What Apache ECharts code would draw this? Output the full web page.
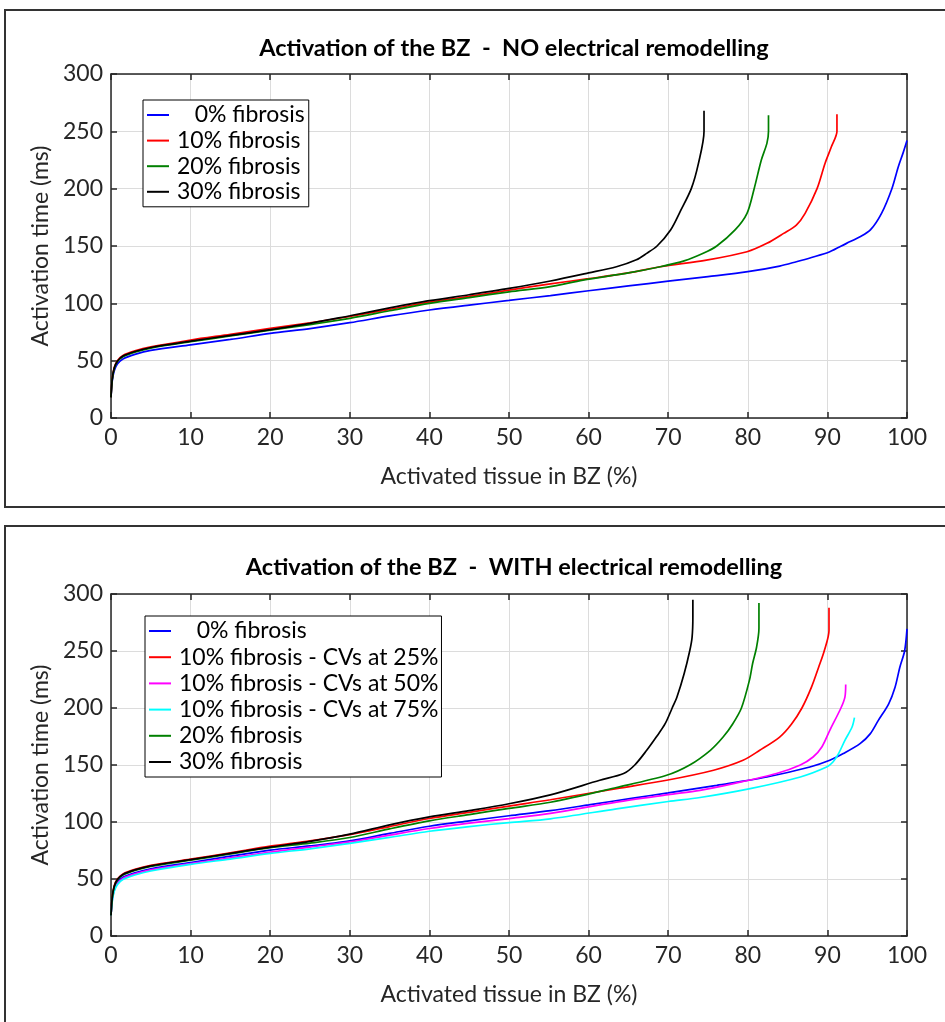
<!DOCTYPE html>
<html>
<head>
<meta charset="utf-8">
<script src="https://cdn.jsdelivr.net/npm/echarts@6/dist/echarts.min.js"></script>
<style>html,body{margin:0;padding:0;background:#fff}#c{width:945px;height:1022px}</style>
</head>
<body>
<div id="c"></div>
<script>
// ---------- Data ----------
const xTicks = [0,10,20,30,40,50,60,70,80,90,100];
const yTicks = [0,50,100,150,200,250,300];

const topTitle = "Activation of the BZ  -  NO electrical remodelling";
const botTitle = "Activation of the BZ  -  WITH electrical remodelling";
const xName = "Activated tissue in BZ (%)";
const yName = "Activation time (ms)";

const topNames = ["   0% fibrosis","10% fibrosis","20% fibrosis","30% fibrosis"];
const botNames = ["   0% fibrosis","10% fibrosis - CVs at 25%","10% fibrosis - CVs at 50%","10% fibrosis - CVs at 75%","20% fibrosis","30% fibrosis"];

// Top panel (NO electrical remodelling): [activated %, activation time ms]
const topBlue = [[0,18],[0.15,32],[0.4,41],[0.8,47],[1.5,51.5],[3,55.5],[5,59],[10,63.8],[15,68.5],[20,73.8],[25,78],[30,83.1],[35,89],[40,94.2],[45,98.5],[50,102.5],[55.2,106.8],[60,111],[65,115.2],[70,119.3],[75,123.3],[80,127.6],[84,132.5],[86.1,136.3],[88,140],[90.3,145],[92.4,152.3],[94.1,158],[95.4,164],[96.8,178.5],[98.1,200],[98.9,219],[99.5,231],[100,242]];
const topRed = [[0,18],[0.15,34],[0.4,44],[0.8,50],[1.5,54.5],[3,58.5],[5,62],[10,68],[15,73],[20,78.2],[25,83],[30,88.5],[35,94.8],[40,101],[45,106],[50,111.5],[55.2,117],[60,121.5],[65,126.5],[69,131.9],[74.8,137.7],[79.9,145],[82.4,152.3],[84.5,161],[86.1,168.3],[87.2,178.5],[88.7,200],[89.7,222],[90.5,236.5],[91.2,250],[91.2,265]];
const topGreen = [[0,18],[0.15,33],[0.4,43],[0.8,49],[1.5,53.5],[3,57.5],[5,61],[10,66.5],[15,71.5],[20,76.5],[25,81.5],[30,86.9],[35,93.5],[40,100],[45,105],[50,110],[55.2,114.5],[59.3,120.3],[65,126.5],[69,131.9],[72,137],[74.4,143.6],[76.1,150],[78.4,164],[79.9,178.5],[80.8,200],[81.7,225],[82.4,239.5],[82.6,250],[82.6,264]];
const topBlack = [[0,18],[0.15,33.5],[0.4,43.5],[0.8,49.5],[1.5,54],[3,58],[5,61.5],[10,67],[15,72],[20,77],[25,82.5],[30,89.2],[35,96],[40,102.3],[45,107.5],[50,113],[55.2,119.5],[60,126.5],[63.5,131.9],[66,138],[67.3,143.6],[68.6,150],[70.3,164],[71.5,180],[72.9,200],[73.8,222],[74.5,250],[74.5,268]];

// Bottom panel (WITH electrical remodelling)
const botBlue = [[0,18],[0.15,32],[0.4,41],[0.8,47],[1.5,51.5],[3,55.5],[5,59],[10,64.5],[15,70],[20,75.3],[25,79],[30,83.5],[35,90],[40,96.3],[45,101],[50,105.5],[55.2,110],[60,115],[65.6,121],[70,125.5],[76.1,132.2],[82.4,139.5],[87.8,148.2],[90.3,154.1],[92,160],[94.1,168.7],[95.4,177.5],[96.4,189.1],[97.7,203.7],[98.5,218.3],[99.1,235.8],[99.7,250],[100,269.4]];
const botRed = [[0,18],[0.15,34],[0.4,44],[0.8,50],[1.5,54.5],[3,58.5],[5,62],[10,67.4],[15,73],[20,78.8],[25,83.5],[30,89],[35,96],[40,103.1],[45,108.5],[50,114],[55.2,119.5],[63.5,129.3],[69.8,136.6],[75.7,145.4],[79.4,154.1],[81.5,162.9],[84,174.5],[85.5,186],[86.8,200],[88,218.3],[88.9,235.8],[89.6,250],[90.2,268],[90.2,288]];
const botMagenta = [[0,18],[0.15,31],[0.4,40],[0.8,46],[1.5,50.5],[3,54.5],[5,58],[10,63.5],[15,68.5],[20,73.5],[25,78],[30,82.5],[35,88.5],[40,94.3],[45,99],[50,103],[55.2,107.5],[63.5,117.5],[70,124],[74,127.8],[78.2,133.7],[83.6,142.5],[86.6,150],[88.2,157],[89.3,165.8],[90.3,180.4],[91.7,200],[92.2,209.6],[92.3,220.7]];
const botCyan = [[0,18],[0.15,30],[0.4,39],[0.8,45],[1.5,49.5],[3,53.5],[5,57],[10,62.8],[15,67.5],[20,72.4],[25,76.5],[30,81.2],[35,86.5],[40,91.9],[45,96],[50,99.5],[55.2,102.8],[63.5,111.5],[70,118],[74,121.5],[80.3,129.3],[86.6,139.5],[89.9,148.2],[90.7,152.6],[91.4,160],[92.2,171.6],[93.1,183.3],[93.4,191.5]];
const botGreen = [[0,18],[0.15,33],[0.4,43],[0.8,49],[1.5,53.5],[3,57.5],[5,61],[10,66.5],[15,72],[20,77.5],[25,81.5],[30,86.4],[35,94],[40,101],[45,106.5],[50,112],[55.2,117.3],[63.5,130.3],[69.8,141],[72.7,150],[75.3,162.9],[76.9,174.5],[78.1,186],[79.2,200],[80.2,224.2],[80.6,238.8],[81.1,253.3],[81.4,270],[81.4,292]];
const botBlack = [[0,18],[0.15,33.5],[0.4,43.5],[0.8,49.5],[1.5,54],[3,58],[5,61.5],[10,67],[15,72.5],[20,78],[25,83],[30,89.3],[35,97.5],[40,104.5],[45,110],[50,116],[55.2,123.8],[61.4,136.6],[64.4,142.5],[65.8,150],[67.3,162.9],[68.5,174.5],[69.6,186],[70.5,200],[71.1,209.6],[72,230],[72.7,250],[73,262],[73.1,280],[73.1,295]];

const topData = [topBlue, topRed, topGreen, topBlack];
const topColors = ["#0000ff","#ff0000","#008000","#000000"];
const botData = [botBlue, botRed, botMagenta, botCyan, botGreen, botBlack];
const botColors = ["#0000ff","#ff0000","#ff00ff","#00ffff","#008000","#000000"];

// ---------- Chart ----------
const FONT = "Lato, 'Open Sans', sans-serif";
const FS = 23;
const AX = "#262626";
const chart = echarts.init(document.getElementById('c'), null, {renderer:'canvas'});

const grids = [
  {left:111, top:74, width:796, height:344},
  {left:111, top:594, width:796, height:342}
];

function xAxes(gi){
  return [
    {gridIndex:gi, type:'value', min:0, max:100, interval:10, position:'bottom',
     axisLine:{show:true, onZero:false, lineStyle:{color:AX, width:1.5}},
     axisTick:{show:true, inside:true, length:6, lineStyle:{color:AX, width:1.5}},
     axisLabel:{show:true, margin:8, color:AX, fontFamily:FONT, fontSize:FS,
       formatter:v=>xTicks.includes(v)?String(v):''},
     splitLine:{show:true, lineStyle:{color:'#dcdcdc', width:1}},
     name:xName, nameLocation:'middle', nameGap:47,
     nameTextStyle:{color:AX, fontFamily:FONT, fontSize:FS}},
    {gridIndex:gi, type:'value', min:0, max:100, interval:10, position:'top',
     axisLine:{show:true, onZero:false, lineStyle:{color:AX, width:1.5}},
     axisTick:{show:true, inside:true, length:6, lineStyle:{color:AX, width:1.5}},
     axisLabel:{show:false}, splitLine:{show:false}}
  ];
}
function yAxes(gi){
  return [
    {gridIndex:gi, type:'value', min:0, max:300, interval:50, position:'left',
     axisLine:{show:true, onZero:false, lineStyle:{color:AX, width:1.5}},
     axisTick:{show:true, inside:true, length:6, lineStyle:{color:AX, width:1.5}},
     axisLabel:{show:true, margin:8, color:AX, fontFamily:FONT, fontSize:FS,
       formatter:v=>yTicks.includes(v)?String(v):''},
     splitLine:{show:true, lineStyle:{color:'#dcdcdc', width:1}},
     name:yName, nameLocation:'middle', nameGap:57,
     nameTextStyle:{color:AX, fontFamily:FONT, fontSize:FS}},
    {gridIndex:gi, type:'value', min:0, max:300, interval:50, position:'right',
     axisLine:{show:true, onZero:false, lineStyle:{color:AX, width:1.5}},
     axisTick:{show:true, inside:true, length:6, lineStyle:{color:AX, width:1.5}},
     axisLabel:{show:false}, splitLine:{show:false}}
  ];
}

const series = [];
topData.forEach((d,i)=>series.push({
  name:topNames[i], type:'line', xAxisIndex:0, yAxisIndex:0, data:d,
  showSymbol:false, symbol:'none', smooth:0.3, color:topColors[i],
  lineStyle:{color:topColors[i], width:1.7}, animation:false, z:2+i
}));
botData.forEach((d,i)=>series.push({
  name:botNames[i], type:'line', xAxisIndex:2, yAxisIndex:2, data:d,
  showSymbol:false, symbol:'none', smooth:0.3, color:botColors[i],
  lineStyle:{color:botColors[i], width:1.7}, animation:false, z:2+i
}));

const legendCommon = {
  orient:'vertical', icon:'rect', itemWidth:22, itemHeight:2,
  backgroundColor:'#ffffff', borderColor:'#000000', borderWidth:1, borderRadius:0,
  textStyle:{color:'#000', fontFamily:FONT, fontSize:FS, lineHeight:24, padding:[0,0,0,3]},
  selectedMode:false
};

chart.setOption({
  backgroundColor:'#ffffff',
  animation:false,
  title:[
    {text:topTitle, left:509, top:31, textAlign:'center',
     textStyle:{fontFamily:FONT, fontWeight:'bold', fontSize:23.5, color:'#000'}},
    {text:botTitle, left:509, top:550, textAlign:'center',
     textStyle:{fontFamily:FONT, fontWeight:'bold', fontSize:23.5, color:'#000'}}
  ],
  grid:grids,
  xAxis:[...xAxes(0), ...xAxes(1)].map((a,i)=>Object.assign(a,{gridIndex:i<2?0:1})),
  yAxis:[...yAxes(0), ...yAxes(1)].map((a,i)=>Object.assign(a,{gridIndex:i<2?0:1})),
  legend:[
    Object.assign({}, legendCommon, {data:topNames.map((n,i)=>({name:n, itemStyle:{color:topColors[i]}})), left:143, top:100, padding:[3,4,3,4], itemGap:1.6}),
    Object.assign({}, legendCommon, {data:botNames.map((n,i)=>({name:n, itemStyle:{color:botColors[i]}})), left:145, top:616, padding:[3,3,3,4], itemGap:2.2})
  ],
  graphic:[
    {type:'rect', silent:true, z:-10, shape:{x:5, y:10, width:960, height:497},
     style:{fill:'none', stroke:'#333', lineWidth:2}},
    {type:'rect', silent:true, z:-10, shape:{x:5, y:526, width:960, height:520},
     style:{fill:'none', stroke:'#333', lineWidth:2}}
  ],
  series:series
});
</script>
</body>
</html>
